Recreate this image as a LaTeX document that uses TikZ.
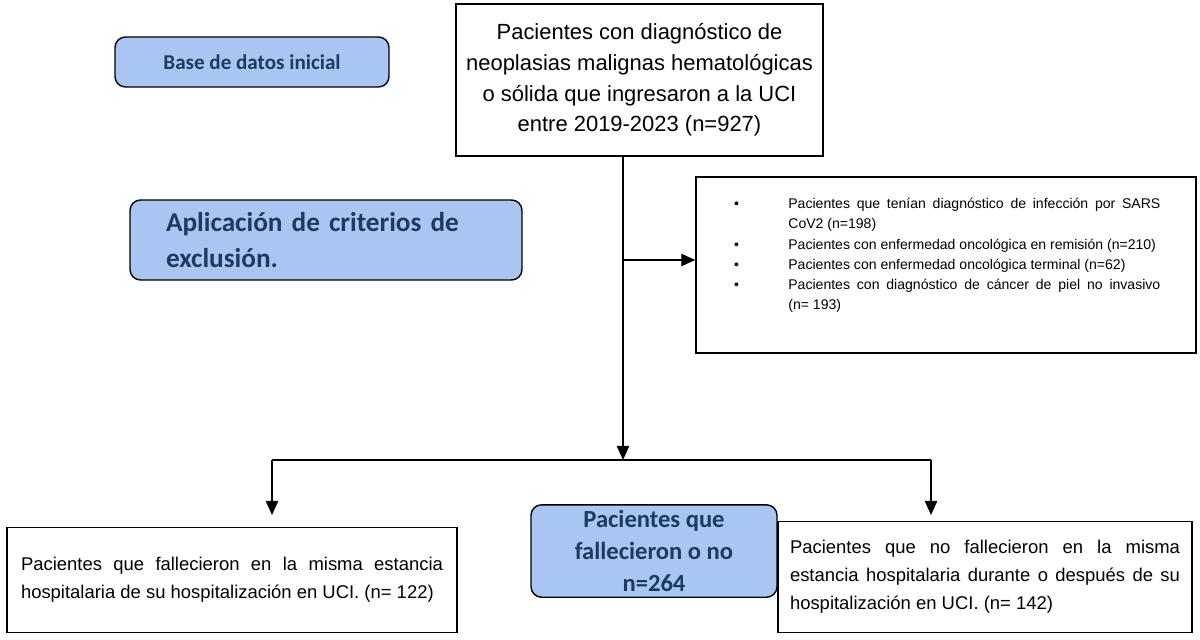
\documentclass[tikz,border=0pt]{standalone}
\usepackage{fontspec}
\setmainfont{Liberation Sans}
\newfontfamily\carl{Carlito}
\usetikzlibrary{arrows.meta}
\definecolor{bl}{HTML}{A9C6F2}
\definecolor{dk}{HTML}{1F3A5F}
\hyphenpenalty=10000
\exhyphenpenalty=10000
\begin{document}
\begin{tikzpicture}[x=0.02cm,y=-0.02cm,
 plain/.style={draw,line width=0.8pt,fill=white},
 blue/.style={draw,line width=0.8pt,rounded corners=6pt,fill=bl,text=dk},
 arr/.style={line width=0.8pt,-{Triangle[length=8pt,width=7pt]}}]
\useasboundingbox (0,0) rectangle (1200,639);
\node[plain,minimum width=367*0.02cm,minimum height=152*0.02cm,align=center,font=\fontsize{12.5}{17.5}\selectfont] (top) at (639.5,80) {Pacientes con diagnóstico de\\neoplasias malignas hematológicas\\o sólida que ingresaron a la UCI\\entre 2019-2023 (n=927)};
\node[blue,minimum width=274*0.02cm,minimum height=50*0.02cm,font=\carl\bfseries\fontsize{12}{14}\selectfont] (base) at (252,62) {Base de datos inicial};
\node[blue,minimum width=392*0.02cm,minimum height=80*0.02cm,align=left,text width=320*0.02cm,font=\carl\bfseries\fontsize{15.5}{21}\selectfont] (apl) at (326,240) {Aplicación de criterios de\\exclusión.};
\node[plain,minimum width=500*0.02cm,minimum height=176*0.02cm] (exc) at (946,265) {};
\node[anchor=north west,text width=372*0.02cm,align=justify,font=\fontsize{8}{11.5}\selectfont,inner sep=0pt] at (788,198) {%
\llap{\textbullet\hspace{28pt}}Pacientes que tenían diagnóstico de infección por SARS CoV2 (n=198)\\
\llap{\textbullet\hspace{28pt}}Pacientes con enfermedad oncológica en remisión (n=210)\\
\llap{\textbullet\hspace{28pt}}Pacientes con enfermedad oncológica terminal (n=62)\\
\llap{\textbullet\hspace{28pt}}Pacientes con diagnóstico de cáncer de piel no invasivo (n=~193)};
\node[plain,minimum width=450*0.02cm,minimum height=105*0.02cm,text width=422*0.02cm,align=justify,font=\fontsize{10.5}{16}\selectfont] (left) at (232,580) {Pacientes que fallecieron en la misma estancia hospitalaria de su hospitalización en UCI. (n=~122)};
\node[blue,minimum width=246*0.02cm,minimum height=86*0.02cm,align=center,font=\carl\bfseries\fontsize{14}{18}\selectfont] (mid) at (654,551) {Pacientes que\\fallecieron o no\\n=264};
\node[plain,minimum width=414*0.02cm,minimum height=111*0.02cm,text width=390*0.02cm,align=justify,font=\fontsize{10.5}{16}\selectfont] (right) at (985,577) {Pacientes que no fallecieron en la misma estancia hospitalaria durante o después de su hospitalización en UCI. (n=~142)};
\coordinate (j) at (623,260);
\coordinate (h) at (623,460);
\draw[line width=0.8pt] (top.south -| j) -- (j);
\draw[arr] (j) -- (exc.west |- j);
\draw[arr] (j) -- (h);
\draw[line width=0.8pt] (272,460) -- (931,460);
\draw[arr] (272,460) -- (272,515);
\draw[arr] (931,460) -- (931,515);
\end{tikzpicture}
\end{document}
